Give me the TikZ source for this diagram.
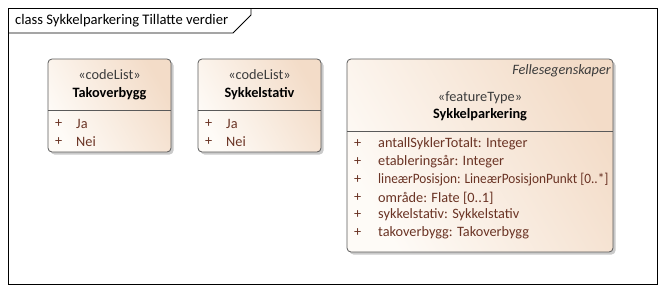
\documentclass[tikz,border=0pt]{standalone}
\usepackage{fontspec}
\setmainfont{Carlito}
\usetikzlibrary{shadows}
\definecolor{boxlight}{HTML}{FEFBF7}
\definecolor{boxdark}{HTML}{F3DCC8}
\definecolor{boxline}{HTML}{5A5A5A}
\definecolor{attrtext}{HTML}{6A3324}
\definecolor{stereo}{HTML}{3C3C3C}
\begin{document}
\begin{tikzpicture}[x=1pt,y=-1pt,
  every node/.style={inner sep=0pt, font=\fontsize{14.3}{16}\selectfont},
  classbox/.style={draw=boxline, line width=0.8pt, rounded corners=4pt,
    left color=boxlight, right color=boxdark, shading angle=120,
    drop shadow={shadow xshift=2.5pt, shadow yshift=-2.5pt, opacity=0.35, fill=black!60}},
  divider/.style={draw=boxline, line width=0.8pt},
  stereotype/.style={text=stereo},
  classname/.style={font=\fontsize{14.3}{16}\selectfont\bfseries},
  vis/.style={text=attrtext, anchor=west},
  attr/.style={text=attrtext, anchor=west},
  frameline/.style={draw=black, line width=0.8pt}]
\useasboundingbox (0,0) rectangle (665,292);

% diagram frame and its name tab
\draw[frameline] (8,8) rectangle (657,284);
\draw[frameline] (8,33) -- (233,33) -- (251,15) -- (251,8);
\node[anchor=west, font=\fontsize{14.6}{16}\selectfont] (title) at (15,20.5) {class Sykkelparkering Tillatte verdier};

% code list Takoverbygg
\path[classbox] (48,59) rectangle (171,152);
\draw[divider] (48,110) -- (171,110);
\node[stereotype] (tStereo) at (109.5,75) {«codeList»};
\node[classname] (tName) at (109.5,94) {Takoverbygg};
\node[vis] (tv1) at (55,124) {+};
\node[attr] (ta1) at (76,124) {Ja};
\node[vis] (tv2) at (55,142) {+};
\node[attr] (ta2) at (76,142) {Nei};

% code list Sykkelstativ
\path[classbox] (198,59) rectangle (321,152);
\draw[divider] (198,110) -- (321,110);
\node[stereotype] (sStereo) at (259.5,75) {«codeList»};
\node[classname] (sName) at (259.5,94) {Sykkelstativ};
\node[vis] (sv1) at (205,124) {+};
\node[attr] (sa1) at (226,124) {Ja};
\node[vis] (sv2) at (205,142) {+};
\node[attr] (sa2) at (226,142) {Nei};

% feature type Sykkelparkering
\path[classbox] (347,59) rectangle (613,252);
\draw[divider] (347,131) -- (613,131);
\node[anchor=east, text=stereo, font=\fontsize{14.3}{16}\selectfont\itshape] (pSuper) at (611,71) {Fellesegenskaper};
\node[stereotype] (pStereo) at (480,98) {«featureType»};
\node[classname] (pName) at (480,115) {Sykkelparkering};
\foreach \y/\txt [count=\i] in {
  144/{antallSyklerTotalt: Integer},
  162/{etableringsår: Integer},
  180/{\scalebox{0.93}[1]{lineærPosisjon: LineærPosisjonPunkt [0..*]}},
  198/{område: Flate [0..1]},
  215/{sykkelstativ: Sykkelstativ},
  233/{takoverbygg: Takoverbygg}}{
  \node[vis] (pv\i) at (354,\y) {+};
  \node[attr] (pa\i) at (378,\y) {\txt};
}
\end{tikzpicture}
\end{document}
